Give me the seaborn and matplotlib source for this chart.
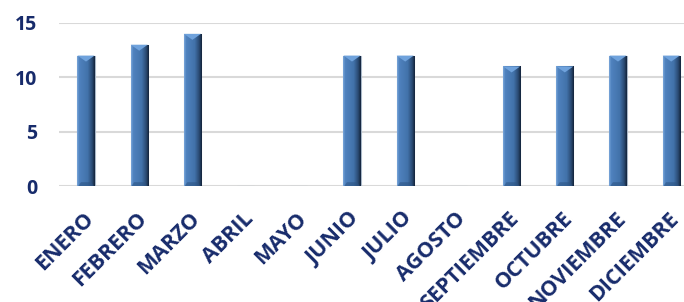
import matplotlib
matplotlib.use("Agg")
import matplotlib.pyplot as plt
import seaborn as sns
import numpy as np
import pandas as pd
from matplotlib.colors import LinearSegmentedColormap
from matplotlib.transforms import ScaledTranslation

meses = ['ENERO', 'FEBRERO', 'MARZO', 'ABRIL', 'MAYO', 'JUNIO', 'JULIO',
         'AGOSTO', 'SEPTIEMBRE', 'OCTUBRE', 'NOVIEMBRE', 'DICIEMBRE']
valores = [12, 13, 14, 0, 0, 12, 12, 0, 11, 11, 12, 12]
y_ticks = [0, 5, 10, 15]

sns.set_style("white")
plt.rcParams['font.family'] = ['Open Sans', 'DejaVu Sans']
azul_texto = '#172B6B'

df = pd.DataFrame({'mes': meses, 'n': valores})

fig = plt.figure(figsize=(6.84, 3.02), dpi=100)
# axes runs a bit past the right edge, like the cropped original
ax = fig.add_axes([59.4 / 684, 116 / 302, 638.4 / 684, 163 / 302])
sns.barplot(data=df, x='mes', y='n', color='#4F81BD', width=0.32,
            edgecolor='#A9B8C8', linewidth=0.8, ax=ax)

# shaded look on the bars
cmap = LinearSegmentedColormap.from_list(
    'barra', [(0, '#7AA6DA'), (0.12, '#4F82BE'), (0.6, '#4272AA'),
              (0.85, '#2A4B73'), (1, '#13233A')])
grad = np.linspace(0, 1, 64)[None, :]
for p in list(ax.patches):
    if p.get_height() <= 0:
        continue
    x0, w, h = p.get_x(), p.get_width(), p.get_height()
    im = ax.imshow(grad, cmap=cmap, extent=[x0, x0 + w, 0, h], aspect='auto',
                   zorder=p.get_zorder() + 0.1)
    im.set_clip_path(p)
    # lighter bevel on top, darker one at the base
    ax.fill([x0, x0 + w, x0 + w / 2], [h, h, h - 0.55], color='#6FA2DC',
            zorder=p.get_zorder() + 0.2, lw=0)
    ax.fill([x0 + w * 0.2, x0 + w * 0.8, x0 + w * 0.95, x0 + w * 0.05],
            [0.35, 0.35, 0.0, 0.0], color='#2D5585', alpha=0.6,
            zorder=p.get_zorder() + 0.2, lw=0)

ax.set_xlim(-0.5, 11.5)
ax.set_ylim(0, 15)
ax.set_yticks(y_ticks)
ax.grid(axis='y', color='#D9D9D9', linewidth=1.5)
ax.set_axisbelow(True)
sns.despine(ax=ax, left=True, bottom=True)

ax.set_xticks(range(len(meses)))
ax.set_xticklabels(meses, rotation=45, ha='right', va='top',
                   rotation_mode='anchor')
ax.tick_params(axis='x', length=0, pad=16, labelsize=15.5, labelcolor=azul_texto)
ax.tick_params(axis='y', length=0, pad=16, labelsize=14, labelcolor=azul_texto)
desplaza = ScaledTranslation(-3 / 100, 0, fig.dpi_scale_trans)
for t in ax.get_xticklabels():
    t.set_transform(t.get_transform() + desplaza)
for t in ax.get_xticklabels() + ax.get_yticklabels():
    t.set_fontweight('bold')
ax.set_xlabel('')
ax.set_ylabel('')

fig.savefig('out.png', dpi=100)
